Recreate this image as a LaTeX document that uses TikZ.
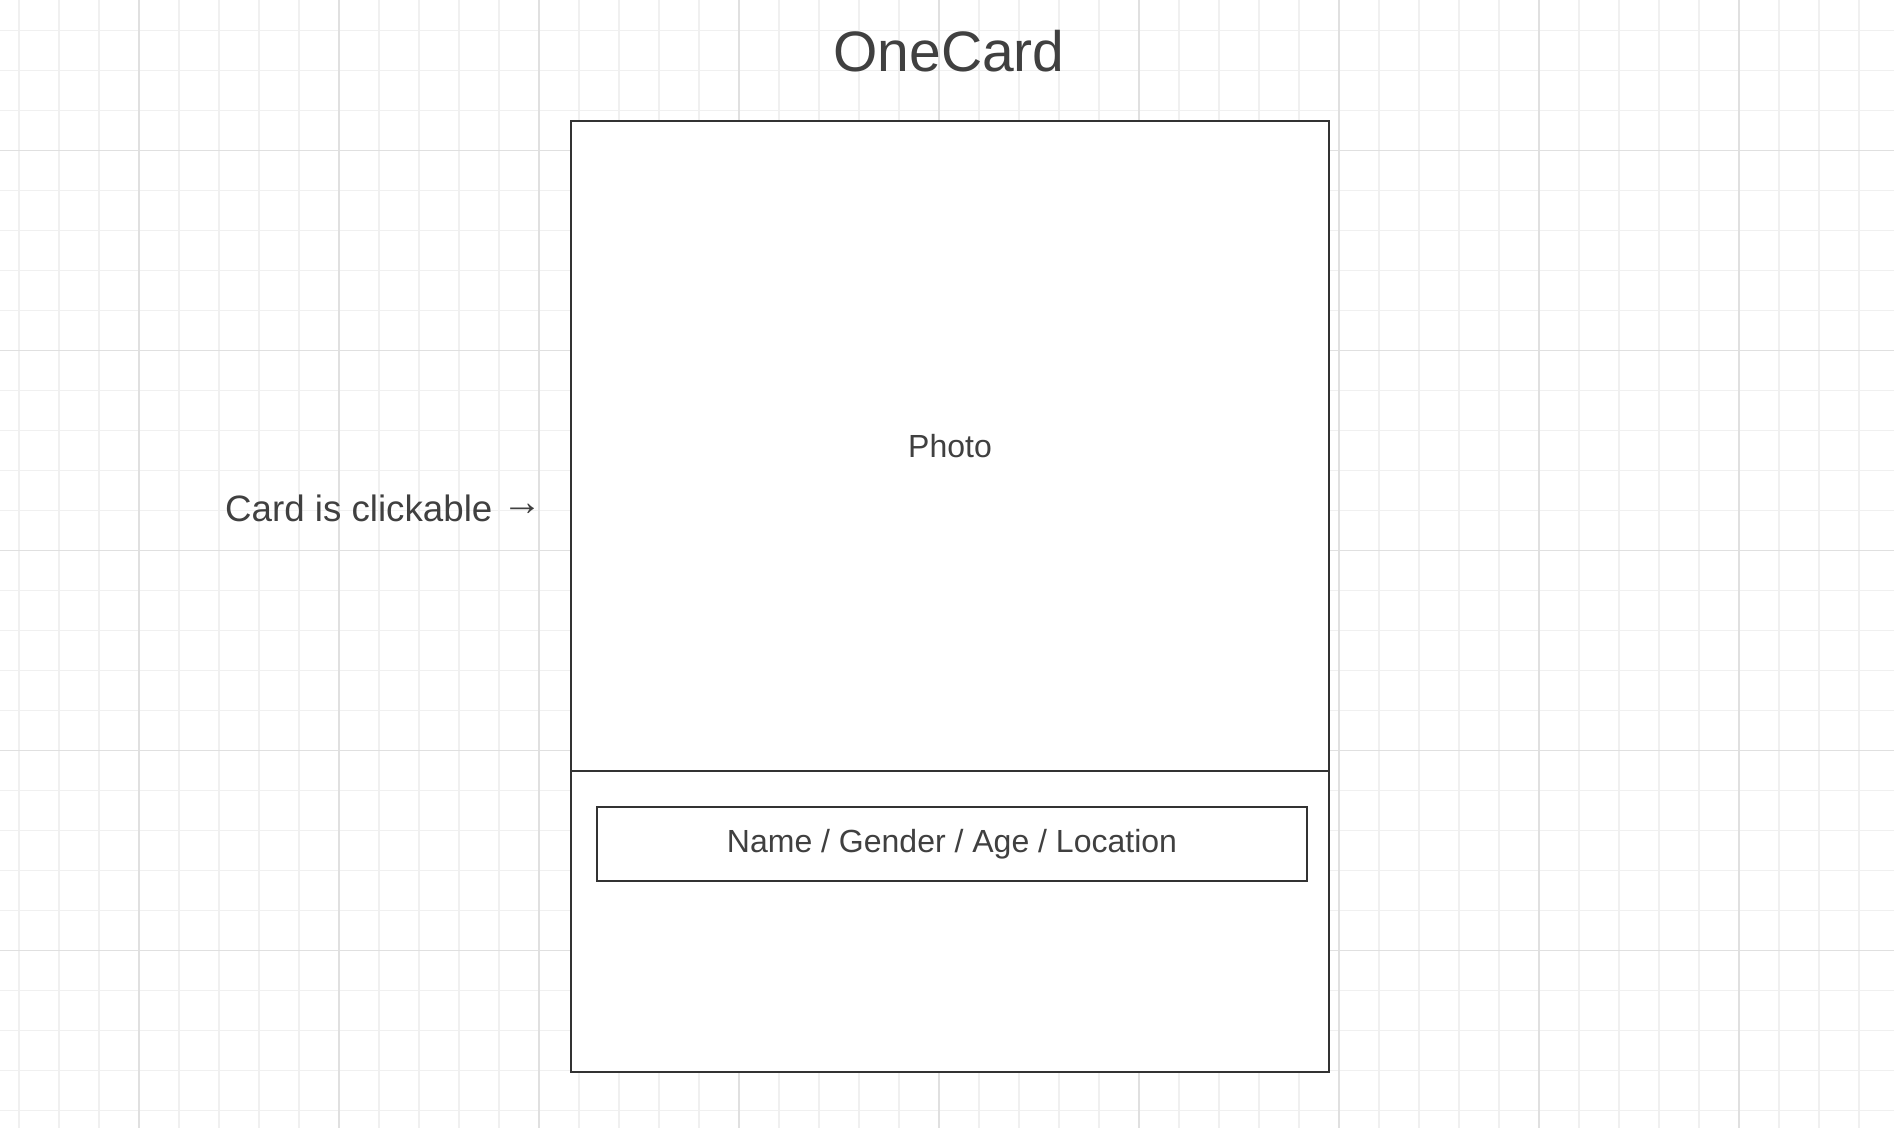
\documentclass[tikz,border=0pt]{standalone}
\usepackage{fontspec}
\setmainfont{Liberation Sans}
\usetikzlibrary{positioning}
\definecolor{gridMinor}{RGB}{240,240,240}
\definecolor{gridMajor}{RGB}{224,224,224}
\definecolor{ink}{RGB}{64,64,64}
\definecolor{frameLine}{RGB}{51,51,51}

\begin{document}
\begin{tikzpicture}[x=1pt, y=-1pt,
  minorLine/.style={draw=gridMinor, line width=1.3pt},
  majorLine/.style={draw=gridMajor, line width=1.3pt},
  panel/.style={draw=frameLine, line width=2pt, fill=white, minimum width=758pt,
                inner sep=0pt, outer sep=0pt, text=ink, font=\fontsize{32}{38}\selectfont},
  field/.style={draw=frameLine, line width=2pt, fill=white, minimum width=710pt,
                minimum height=74pt, inner sep=0pt, outer sep=0pt, text=ink,
                font=\fontsize{32}{38}\selectfont},
  caption/.style={inner sep=0pt, text=ink}
]
\useasboundingbox (0,0) rectangle (1894,1128);
\fill[white] (0,0) rectangle (1894,1128);
\foreach \x in {19,59,...,1879} \draw[minorLine] (\x,0) -- (\x,1128);
\foreach \y in {30.67,70.67,...,1110.67} \draw[minorLine] (0,\y) -- (1894,\y);
\foreach \x in {139,339,...,1739} \draw[majorLine] (\x,0) -- (\x,1128);
\foreach \y in {150.67,350.67,...,950.67} \draw[majorLine] (0,\y) -- (1894,\y);

\node[caption, anchor=base, font=\fontsize{57}{68}\selectfont] (title) at (949,71) {OneCard};
\node[panel, minimum height=650pt] (photo) at (950,446) {Photo};
\node[panel, minimum height=301pt, below=0pt of photo] (info) {};
\node[field, below=36pt of info.north, xshift=2pt] (details) {Name / Gender / Age / Location};
\node[caption, anchor=base west, font=\fontsize{36.7}{44}\selectfont] (hint) at (225,521)
  {Card is clickable \raisebox{6pt}{\fontsize{40}{48}\selectfont →}};
\end{tikzpicture}
\end{document}
